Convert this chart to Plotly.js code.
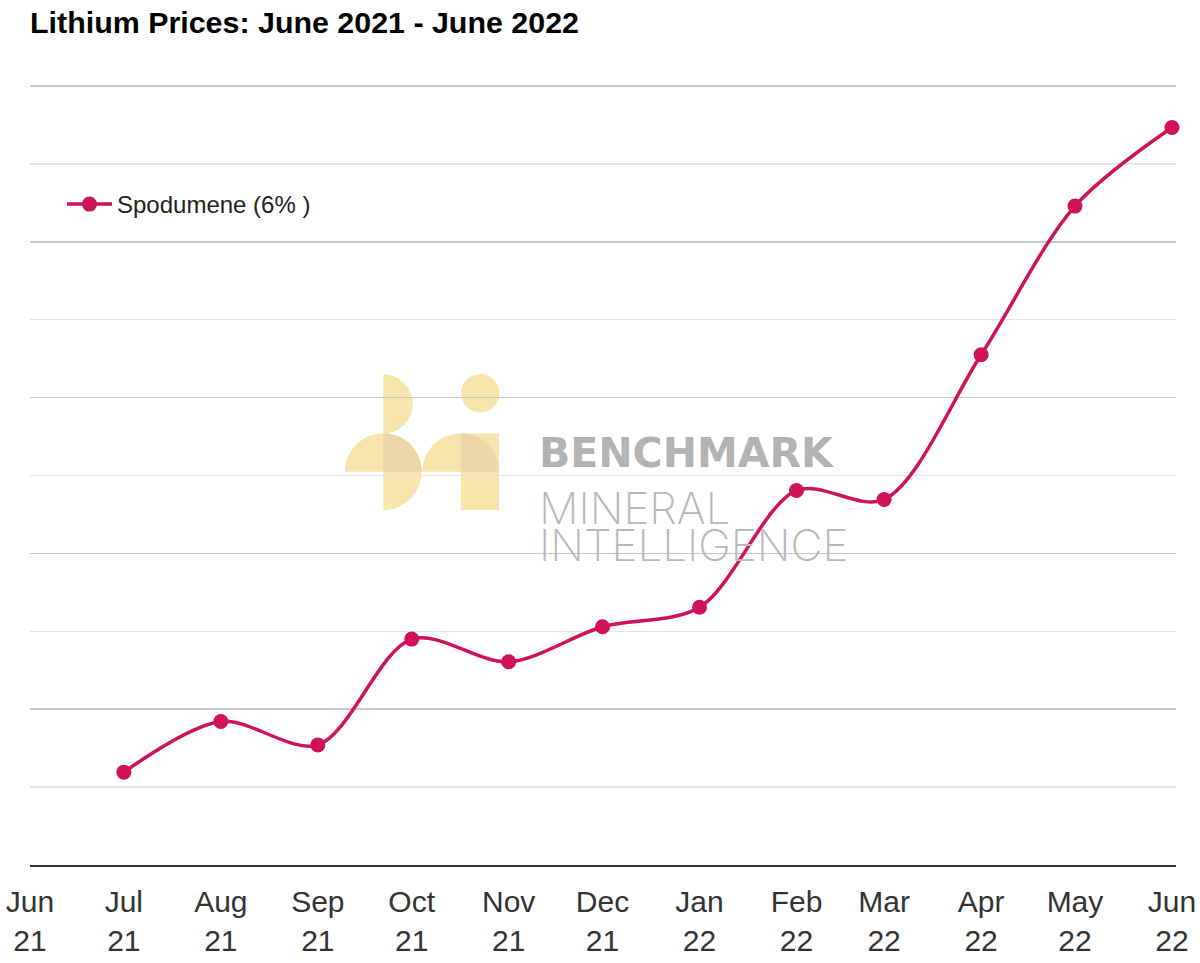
<!DOCTYPE html>
<html><head><meta charset="utf-8">
<script src="https://cdn.plot.ly/plotly-3.0.1.min.js"></script>
<style>html,body{margin:0;padding:0;background:#fff}</style>
</head><body><div id="chart" style="width:1200px;height:963px"></div>
<script>
// ---- data ----
const months = ['2021-07-01','2021-08-01','2021-09-01','2021-10-01','2021-11-01','2021-12-01',
                '2022-01-01','2022-02-01','2022-03-01','2022-04-01','2022-05-01','2022-06-01'];
const spodumene = [715, 1105, 925, 1740, 1565, 1835, 1985, 2885, 2815, 3930, 5075, 5680];
const seriesName = 'Spodumene (6% )';
const tickDates = ['2021-06-01','2021-07-01','2021-08-01','2021-09-01','2021-10-01','2021-11-01',
                   '2021-12-01','2022-01-01','2022-02-01','2022-03-01','2022-04-01','2022-05-01','2022-06-01'];
const tickLabels = ['Jun<br>21','Jul<br>21','Aug<br>21','Sep<br>21','Oct<br>21','Nov<br>21',
                    'Dec<br>21','Jan<br>22','Feb<br>22','Mar<br>22','Apr<br>22','May<br>22','Jun<br>22'];
const chartTitle = 'Lithium Prices: June 2021 - June 2022';

// ---- layout geometry ----
const W = 1200, H = 963;
const M = {l: 30, r: 24, t: 82, b: 98};
const PW = W - M.l - M.r, PH = H - M.t - M.b;
const px = x => (x - M.l) / PW;
const py = y => (H - M.b - y) / PH;
const yTop = 6000 * PH / (H - M.b - 86);   // 6000 sits at pixel row 86

function arc(cx, cy, r, a0, a1, withCenter) {
  let d = '';
  const n = 40;
  if (withCenter) d += 'M' + px(cx) + ',' + py(cy) + ' ';
  for (let i = 0; i <= n; i++) {
    const a = (a0 + (a1 - a0) * i / n) * Math.PI / 180;
    const x = cx + r * Math.cos(a), y = cy + r * Math.sin(a);
    d += ((i === 0 && !withCenter) ? 'M' : 'L') + px(x) + ',' + py(y) + ' ';
  }
  return d + 'Z';
}
const base = '#f8e5ab', over = '#eed6a8';
function pathShape(path, color) {
  return {type: 'path', xref: 'paper', yref: 'paper', path: path, fillcolor: color,
          line: {width: 0}, layer: 'below'};
}
const shapes = [
  pathShape(arc(383.3, 404, 29.5, -90, 90), base),
  pathShape(arc(383.3, 471.7, 38.3, 180, 360), base),
  pathShape(arc(383.3, 471.7, 38.3, -90, 90), base),
  pathShape(arc(460.7, 471.7, 38.3, 180, 360), base),
  {type: 'rect', xref: 'paper', yref: 'paper', x0: px(460.7), x1: px(499), y0: py(510), y1: py(433.4),
   fillcolor: base, line: {width: 0}, layer: 'below'},
  {type: 'circle', xref: 'paper', yref: 'paper', x0: px(480.3 - 19.2), x1: px(480.3 + 19.2),
   y0: py(393.3 + 19.2), y1: py(393.3 - 19.2), fillcolor: base, line: {width: 0}, layer: 'below'},
  pathShape(arc(383.3, 471.7, 38.3, 270, 360, true), over),
  pathShape(arc(460.7, 471.7, 38.3, 270, 360, true), over)
];

const annotations = [
  {text: 'BENCHMARK', xref: 'paper', yref: 'paper', x: px(537), y: py(453), xanchor: 'left', yanchor: 'middle',
   showarrow: false, font: {family: 'DejaVu Sans', size: 41, color: '#b3b3b3', weight: 'bold'}},
  {text: 'MINERAL', xref: 'paper', yref: 'paper', x: px(537), y: py(508), xanchor: 'left', yanchor: 'middle',
   showarrow: false, font: {family: 'Inter', size: 44, color: '#b9b9b9', weight: 200}},
  {text: 'INTELLIGENCE', xref: 'paper', yref: 'paper', x: px(537), y: py(545), xanchor: 'left', yanchor: 'middle',
   showarrow: false, font: {family: 'Inter', size: 44, color: '#b9b9b9', weight: 200}}
];

const trace = {
  x: months, y: spodumene, name: seriesName, type: 'scatter', mode: 'lines+markers',
  line: {color: '#cf1259', width: 3.5, shape: 'spline', smoothing: 0.9},
  marker: {color: '#cf1259', size: 15},
  cliponaxis: false,
  hoverinfo: 'x+y'
};

const layout = {
  width: W, height: H,
  margin: M,
  paper_bgcolor: '#ffffff', plot_bgcolor: 'rgba(0,0,0,0)',
  font: {family: 'Arial, Liberation Sans, sans-serif', color: '#333333'},
  title: {text: chartTitle, x: 30 / W, xanchor: 'left', xref: 'container',
          y: 1 - 22 / H, yanchor: 'middle', yref: 'container',
          font: {family: 'Arial, Liberation Sans, sans-serif', size: 30.4, color: '#000000', weight: 'bold'}},
  showlegend: true,
  legend: {x: px(62), y: py(182), xanchor: 'left', yanchor: 'top', bgcolor: 'rgba(0,0,0,0)',
           font: {size: 24, color: '#222222'}, itemwidth: 45},
  xaxis: {type: 'date', range: ['2021-06-01', '2022-06-02 07:00'],
          tickmode: 'array', tickvals: tickDates, ticktext: tickLabels,
          showgrid: false, zeroline: false, showline: true, linecolor: '#333333', linewidth: 2,
          ticks: '', ticklabelstandoff: 9, tickfont: {size: 30, color: '#333333'}, fixedrange: true},
  yaxis: {range: [0, yTop], showticklabels: false, zeroline: false, showline: false, ticks: '',
          tickmode: 'linear', tick0: 0, dtick: 1200, showgrid: true, gridcolor: '#c8c8c8', gridwidth: 1.5,
          minor: {tickmode: 'linear', tick0: 0, dtick: 600, showgrid: true, gridcolor: '#e4e4e4', gridwidth: 1.5},
          fixedrange: true},
  shapes: shapes,
  annotations: annotations
};

Plotly.newPlot('chart', [trace], layout, {displayModeBar: false, staticPlot: true});
</script>
</body></html>
